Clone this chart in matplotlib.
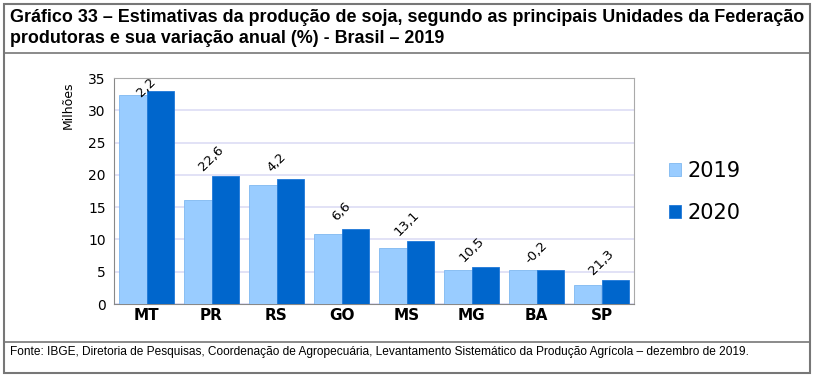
import numpy as np
import matplotlib
matplotlib.use('Agg')
import matplotlib.pyplot as plt
from matplotlib.patches import Rectangle
from matplotlib.lines import Line2D

# Data (millions of tonnes)
states = ['MT', 'PR', 'RS', 'GO', 'MS', 'MG', 'BA', 'SP']
prod_2019 = [32.3, 16.1, 18.5, 10.9, 8.7, 5.2, 5.3, 3.0]
prod_2020 = [33.0, 19.8, 19.3, 11.6, 9.8, 5.7, 5.3, 3.7]
variation = ['2,2', '22,6', '4,2', '6,6', '13,1', '10,5', '-0,2', '21,3']
yticks = [0, 5, 10, 15, 20, 25, 30, 35]

title = ("Gráfico 33 – Estimativas da produção de soja, segundo as principais Unidades da Federação\n"
         "produtoras e sua variação anual (%) - Brasil – 2019")
source = ("Fonte: IBGE, Diretoria de Pesquisas, Coordenação de Agropecuária, "
          "Levantamento Sistemático da Produção Agrícola – dezembro de 2019.")

sans = ['Liberation Sans', 'DejaVu Sans']

W, H = 817, 381
fig = plt.figure(figsize=(W / 100, H / 100), dpi=100)

def fx(px):
    return px / W

def fy(py):
    return 1 - py / H

# outer frame and separators
fig.add_artist(Rectangle((fx(4), fy(373)), fx(806), fy(4) - fy(373),
                         transform=fig.transFigure, fill=False,
                         edgecolor='#777777', linewidth=1.5))
fig.add_artist(Line2D([fx(4), fx(810)], [fy(53), fy(53)], transform=fig.transFigure,
                      color='#777777', linewidth=1.2))
fig.add_artist(Line2D([fx(4), fx(810)], [fy(342), fy(342)], transform=fig.transFigure,
                      color='#777777', linewidth=1.2))

fig.text(fx(10), fy(28), title, fontsize=12.9, fontweight='bold', family=sans,
         va='center', ha='left', linespacing=1.35)
fig.text(fx(10), fy(352), source, fontsize=8.6, family=sans, va='center', ha='left')

ax = fig.add_axes([fx(114), fy(304), fx(634 - 114), fy(78) - fy(304)])

x = np.arange(len(states))
w = 0.43
ax.bar(x - w / 2, prod_2019, w, color='#99ccff', edgecolor='#7fb8f0', linewidth=0.6,
       label='2019', zorder=3)
ax.bar(x + w / 2, prod_2020, w, color='#0066cc', edgecolor='#1f78d8', linewidth=0.6,
       label='2020', zorder=3)

# variation labels, kept inside the plot area
for xi, a, b, lab in zip(x, prod_2019, prod_2020, variation):
    ylab = min(max(a, b) + 2.7, 33.6)
    ax.text(xi, ylab, lab, ha='center', va='center', rotation=45, fontsize=9.5)

ax.set_xlim(-0.5, len(states) - 0.5)
ax.set_ylim(0, 35)
ax.set_yticks(yticks)
ax.set_xticks(x)
ax.set_xticklabels(states, fontweight='bold', fontsize=11)
ax.tick_params(axis='y', labelsize=10, length=0, pad=6)
ax.tick_params(axis='x', length=0, pad=3)
ax.grid(axis='y', color='#ddddf5', linewidth=1.2, zorder=0)
for s in ['top', 'right', 'left', 'bottom']:
    ax.spines[s].set_color('#aaaaaa')
ax.spines['left'].set_color('#888888')
ax.spines['bottom'].set_color('#888888')

ax.set_ylabel('Milhões', fontsize=9)
ax.yaxis.set_label_coords(-0.075, 0.88)

handles, labels = ax.get_legend_handles_labels()
fig.legend(handles, labels, loc='center left', bbox_to_anchor=(fx(650), fy(192)),
           frameon=False, fontsize=15, handlelength=0.6, handleheight=0.6,
           handletextpad=0.3, labelspacing=1.05)

fig.savefig('out.png', dpi=100)
